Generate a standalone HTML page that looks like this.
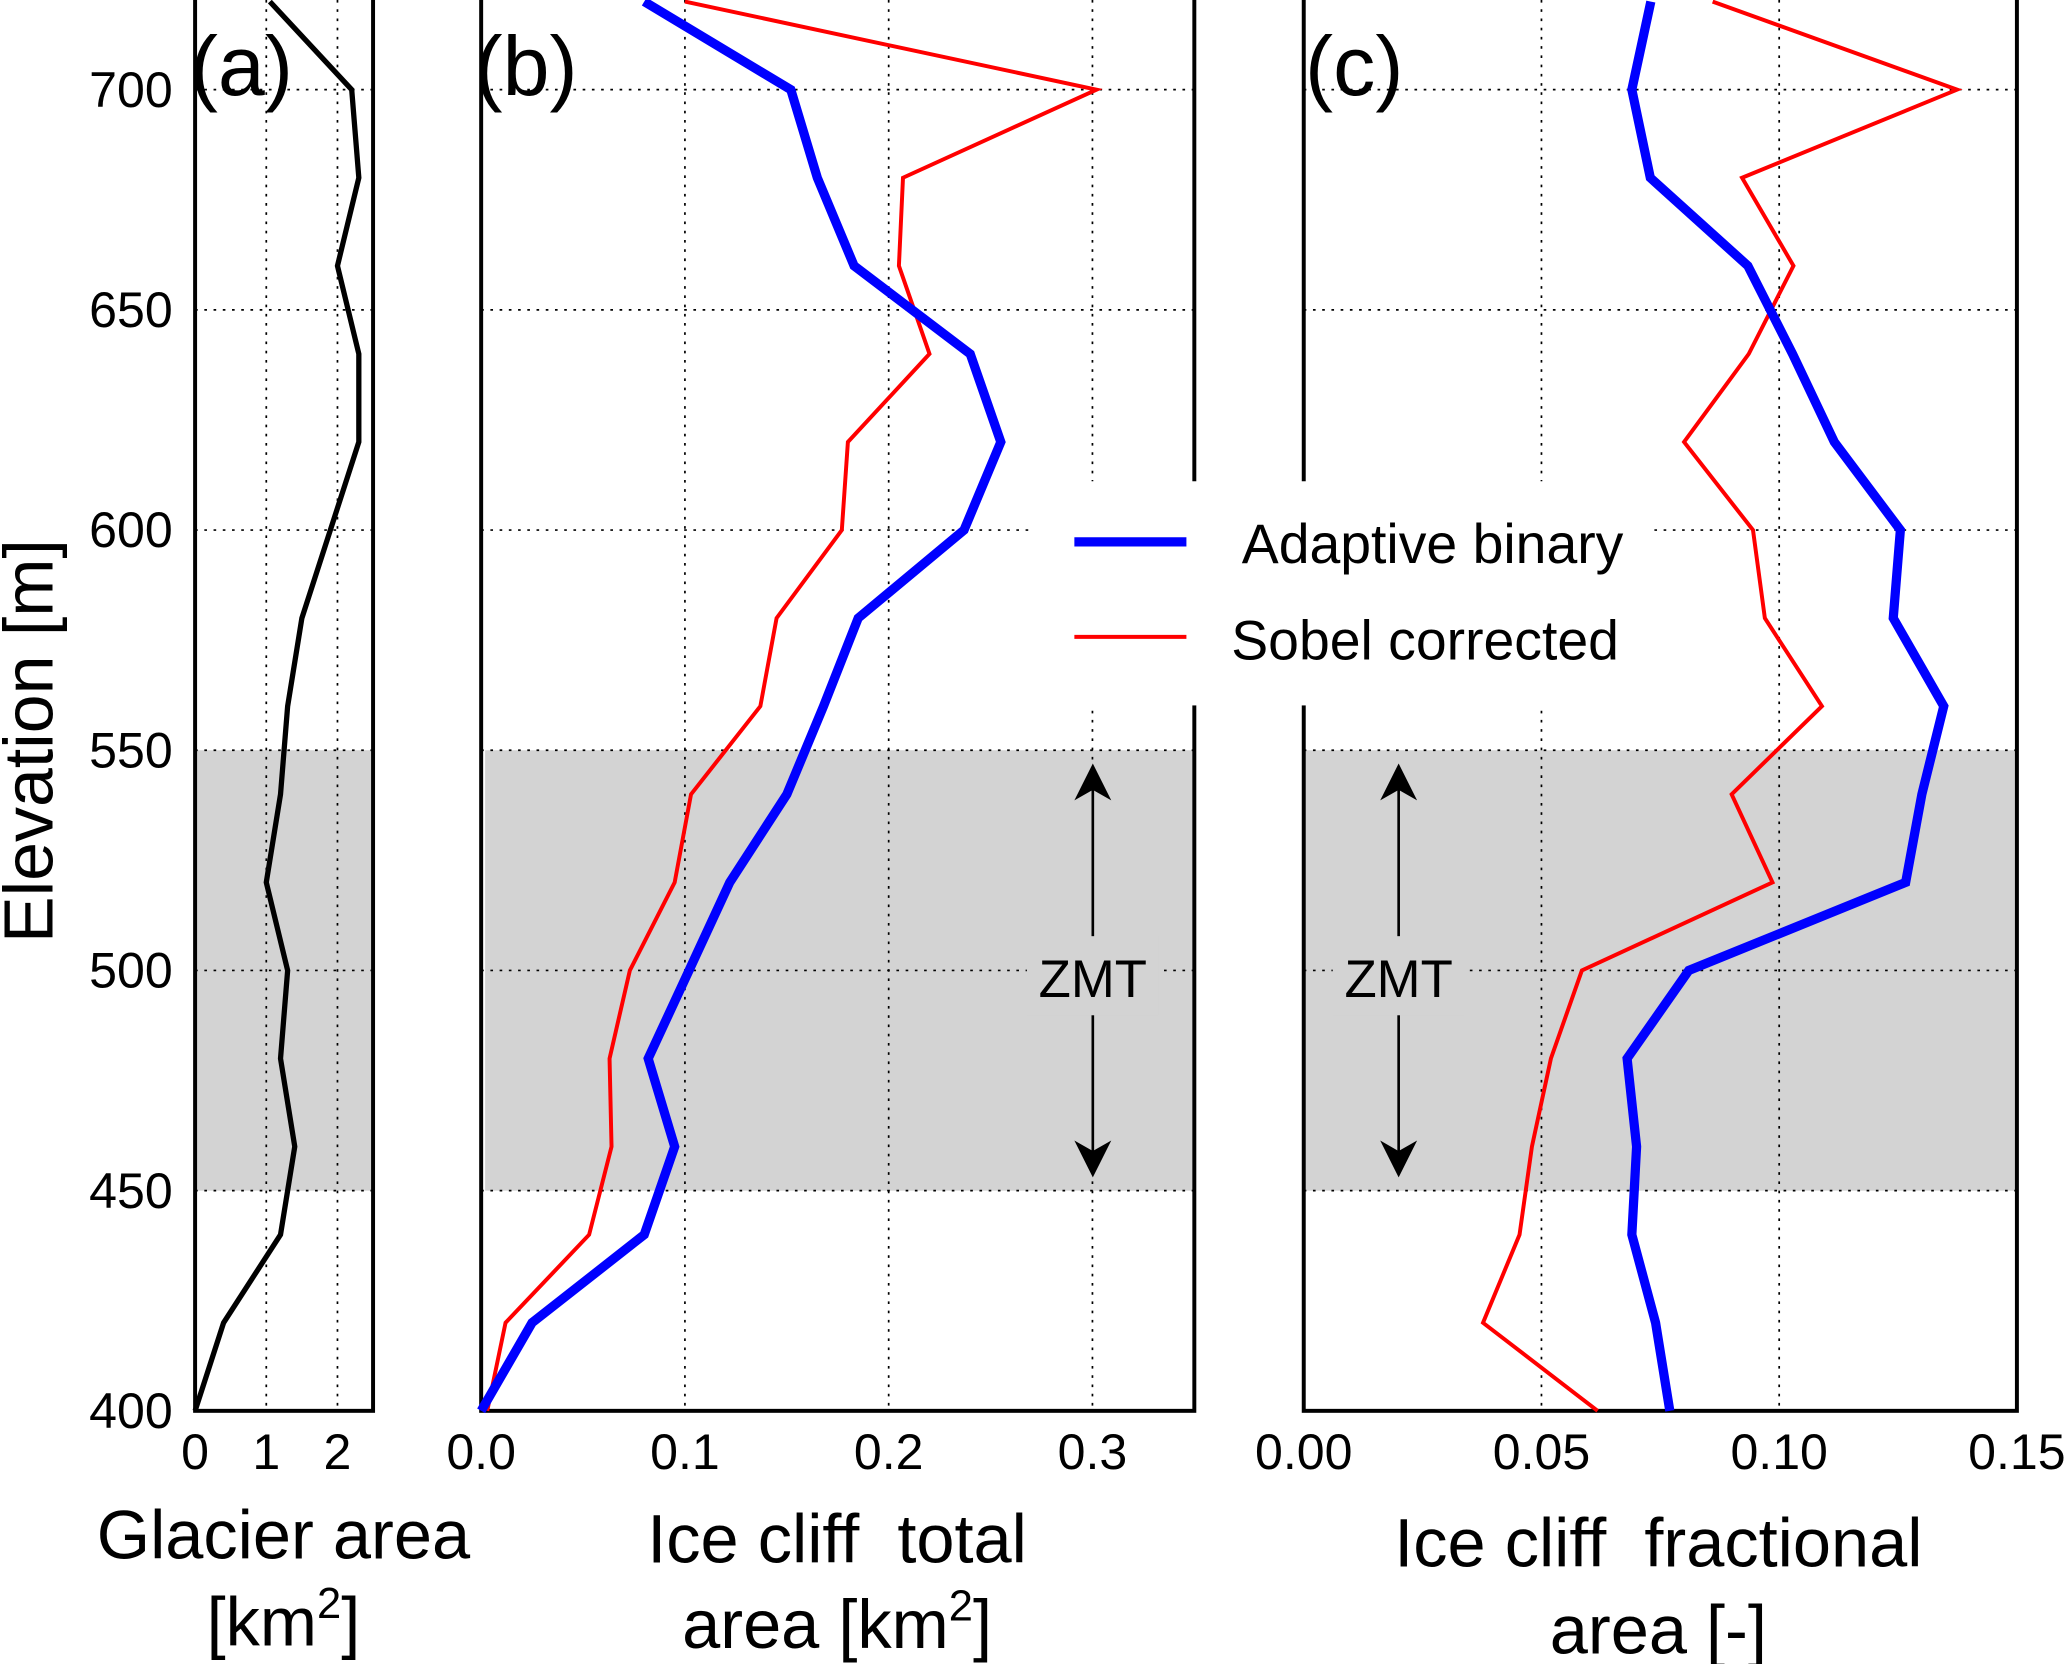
<!DOCTYPE html>
<html><head><meta charset="utf-8"><style>
html,body{margin:0;padding:0;background:#fff;}
svg{display:block;font-family:"Liberation Sans",sans-serif;}
</style></head><body>
<svg id="chart" width="2067" height="1664" viewBox="0 0 1568 1262" preserveAspectRatio="none">
</svg>
<script>
const elevations=[400,420,440,460,480,500,520,540,560,580,600,620,640,660,680,700,720];
const glacierArea=[0,0.4,1.2,1.4,1.2,1.3,1.0,1.2,1.3,1.5,1.9,2.3,2.3,2.0,2.3,2.2,1.05];
const totalBlue=[0,0.025,0.08,0.095,0.082,0.102,0.122,0.15,0.168,0.185,0.237,0.255,0.24,0.183,0.165,0.152,0.08];
const totalRed=[0.003,0.012,0.053,0.064,0.063,0.073,0.095,0.103,0.137,0.145,0.177,0.18,0.22,0.205,0.207,0.302,0.10];
const fracBlue=[0.077,0.074,0.069,0.070,0.068,0.081,0.1266,0.130,0.1346,0.124,0.1255,0.1116,0.1028,0.0934,0.0729,0.069,0.073];
const fracRed=[0.0618,0.0377,0.0454,0.048,0.052,0.0585,0.0986,0.090,0.109,0.097,0.0945,0.080,0.0936,0.103,0.0922,0.1374,0.086];
const yTicks=[400,450,500,550,600,650,700];
const aTicks=[0,1,2];const bTicks=[0.0,0.1,0.2,0.3];const cTicks=[0.00,0.05,0.10,0.15];
const bTickLabels=["0.0","0.1","0.2","0.3"];const cTickLabels=["0.00","0.05","0.10","0.15"];

const NS="http://www.w3.org/2000/svg";
const svg=document.getElementById('chart');
function el(tag,attrs,parent,text){const e=document.createElementNS(NS,tag);for(const k in attrs)e.setAttribute(k,attrs[k]);if(text!==undefined)e.textContent=text;(parent||svg).appendChild(e);return e;}
const Y=v=>1070-(v-400)*(1002/300);
const panels=[
 {key:'a',x0:148,x1:283,min:0,max:2.5,ticks:aTicks,labels:["0","1","2"]},
 {key:'b',x0:365,x1:906,min:0,max:0.35,ticks:bTicks,labels:bTickLabels},
 {key:'c',x0:989,x1:1530,min:0,max:0.15,ticks:cTicks,labels:cTickLabels}];
panels.forEach(p=>{p.X=v=>p.x0+(v-p.min)/(p.max-p.min)*(p.x1-p.x0);});
const [pa,pb,pc]=panels;
panels.forEach(p=>{
 const g=el('g',{},svg);
 
 
 const band=el('rect',{x:p.key==='b'?p.x0+3:p.x0,y:Y(550),width:p.x1-p.x0-(p.key==='b'?3:0),height:Y(450)-Y(550),fill:'#d3d3d3'},g);
 
 
 yTicks.forEach(t=>{const l=el('line',{x1:p.x0,x2:p.x1,y1:Y(t),y2:Y(t),stroke:'#000','stroke-width':1.3,'stroke-dasharray':'2,5'},g);
  });
 p.ticks.forEach((t,i)=>{const x=p.X(t);
  const l=el('line',{x1:x,x2:x,y1:0,y2:1070,stroke:'#000','stroke-width':1.3,'stroke-dasharray':'2,5'},g);
  
  const tx=el('text',{x:x,y:1114,'font-size':38,'text-anchor':'middle'},g,p.labels[i]);
  });
 const r=el('rect',{x:p.x0,y:-5,width:p.x1-p.x0,height:1075,fill:'none',stroke:'#000','stroke-width':3},g);
 
});
yTicks.forEach(t=>{const tx=el('text',{x:131,y:Y(t)+13,'font-size':38,'text-anchor':'end'},svg,String(t));
 });
function line(p,vals,color,w,name){
 const pts=vals.map((v,i)=>p.X(v).toFixed(1)+','+Y(elevations[i]).toFixed(1)).join(' ');
 const pl=el('polyline',{points:pts,fill:'none',stroke:color,'stroke-width':w,'stroke-linejoin':'miter'},svg);
 }
line(pa,glacierArea,'#000',4,'glacier-area-line');
line(pb,totalRed,'#ff0000',3,'total-sobel-line');
line(pb,totalBlue,'#0000ff',7,'total-adaptive-line');
line(pc,fracRed,'#ff0000',3,'fractional-sobel-line');
line(pc,fracBlue,'#0000ff',7,'fractional-adaptive-line');
[[829,'b'],[1061,'c']].forEach(([x,k])=>{
 const g=el('g',{},svg);
 el('line',{x1:x,x2:x,y1:Y(545),y2:Y(455),stroke:'#000','stroke-width':2},g);
 el('polygon',{points:`${x},${Y(547)} ${x-14},${Y(547)+28} ${x},${Y(547)+20} ${x+14},${Y(547)+28}`,fill:'#000'},g);
 el('polygon',{points:`${x},${Y(453)} ${x-14},${Y(453)-28} ${x},${Y(453)-20} ${x+14},${Y(453)-28}`,fill:'#000'},g);
 el('rect',{x:x-50,y:710,width:100,height:60,fill:'#d3d3d3'},g);
 el('text',{x:x,y:756,'font-size':40,'text-anchor':'middle'},g,'ZMT');});
[['(a)',144],['(b)',360],['(c)',990]].forEach(([t,x])=>{const tx=el('text',{x:x,y:72,'font-size':64},svg,t);
 });
const lg=el('g',{},svg);
el('rect',{x:782,y:365,width:470,height:170,fill:'#fff'},lg);
el('line',{x1:815,x2:900,y1:411,y2:411,stroke:'#0000ff','stroke-width':7},lg);
el('text',{x:942,y:427,'font-size':42},lg,'Adaptive binary');
el('line',{x1:815,x2:900,y1:483,y2:483,stroke:'#ff0000','stroke-width':3},lg);
el('text',{x:934,y:500,'font-size':42},lg,'Sobel corrected');
const yt=el('text',{x:0,y:0,'font-size':53,'text-anchor':'middle',transform:'translate(40,562) rotate(-90)'},svg,'Elevation [m]');

function title(x,y,t,name){const tx=el('text',{x:x,y:y,'font-size':52,'text-anchor':'middle','xml:space':'preserve'},svg);tx.innerHTML=t;
 }
title(215,1182,'Glacier area','x-axis-title-a');
title(215,1248,'[km<tspan font-size="33" dy="-21">2</tspan><tspan dy="21">]</tspan>','x-axis-title-a2');
title(635,1185,'Ice cliff\u00a0\u00a0total','x-axis-title-b');
title(635,1250,'area [km<tspan font-size="33" dy="-21">2</tspan><tspan dy="21">]</tspan>','x-axis-title-b2');
title(1258,1188,'Ice cliff\u00a0\u00a0fractional','x-axis-title-c');
title(1258,1254,'area [-]','x-axis-title-c2');
</script>
</body></html>
